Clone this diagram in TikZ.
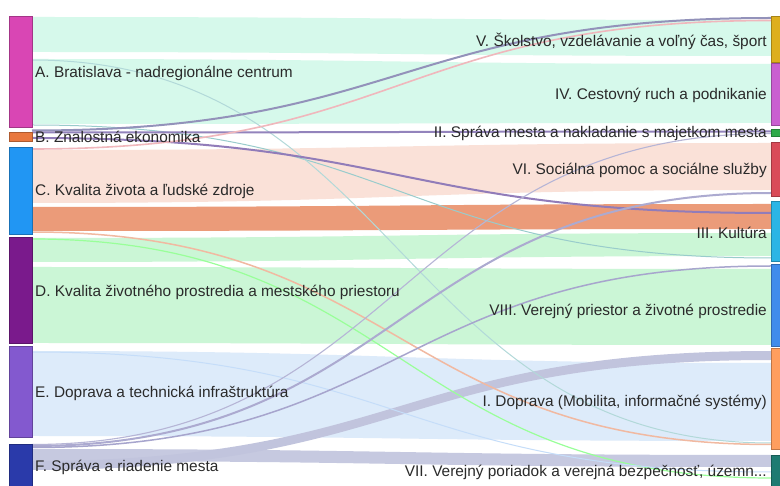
\documentclass[tikz,border=0pt]{standalone}
\usepackage{fontspec}
\setmainfont{Liberation Sans}
\definecolor{cA}{HTML}{D946B4}
\definecolor{cB}{HTML}{E8783F}
\definecolor{cC}{HTML}{2196F3}
\definecolor{cD}{HTML}{7A1A8C}
\definecolor{cE}{HTML}{8359CF}
\definecolor{cF}{HTML}{2A3AAA}
\definecolor{cV}{HTML}{DDAF1E}
\definecolor{cIV}{HTML}{C95FD0}
\definecolor{cII}{HTML}{2EAA4A}
\definecolor{cVI}{HTML}{D94B58}
\definecolor{cIII}{HTML}{2BB5E5}
\definecolor{cVIII}{HTML}{3F8CEB}
\definecolor{cI}{HTML}{FF9E5E}
\definecolor{cVII}{HTML}{1E7B72}
\definecolor{mint}{HTML}{D6F9EB}
\definecolor{peach}{HTML}{FAE1D8}
\definecolor{coral}{HTML}{EB9B79}
\definecolor{lgreen}{HTML}{CBF6D6}
\definecolor{lblue}{HTML}{DDEBFA}
\definecolor{lav}{HTML}{C6C9E0}
\definecolor{lavline}{HTML}{9795C4}
\definecolor{txt}{HTML}{2A2A2A}
\newcommand\sflow[5]{\fill[#5] (32,#1) .. controls (400,#1) and (400,#3) .. (771,#3) -- (771,#4) .. controls (400,#4) and (400,#2) .. (32,#2) -- cycle;}
\newcommand\sline[4]{\draw[line width=#3,#4] (32,#1) .. controls (400,#1) and (400,#2) .. (771,#2);}
\begin{document}
\begin{tikzpicture}[x=1pt,y=-1pt,
  bar/.style={draw=#1!75!black,fill=#1,line width=0.6pt,inner sep=0pt,outer sep=0pt},
  llab/.style={anchor=west,text=txt,font=\fontsize{15.4}{18}\selectfont,inner sep=0pt},
  rlab/.style={anchor=east,text=txt,font=\fontsize{15.4}{18}\selectfont,inner sep=0pt}]
\useasboundingbox (0,0) rectangle (780,486);
\clip (0,0) rectangle (780,486);
\fill[white] (0,0) rectangle (780,486);
% bands
\sflow{17}{52}{20}{56}{mint}
\sflow{59}{124}{64}{123}{mint}
\sflow{150}{203}{143}{190}{peach}
\sflow{207}{231}{204}{229}{coral}
\sflow{238}{262}{233}{256}{lgreen}
\sflow{267}{343}{269}{345}{lgreen}
\sflow{351}{436}{363}{441}{lblue}
\sflow{449}{461}{455}{467}{lav}
\sflow{461}{470}{351}{360}{lav!90!lavline}
% thin lines
\sline{125}{258}{1pt}{teal!40}
\sline{60}{443}{1pt}{teal!30}
\sline{130.5}{18}{2pt}{lavline!85!gray}
\sline{132.5}{131.5}{2pt}{lavline!85!cD}
\sline{138}{213}{2pt}{lavline!80!cD}
\sline{149}{20.5}{1.6pt}{cVI!40}
\sline{232}{444.5}{1.5pt}{coral!70}
\sline{239}{478}{1.2pt}{green!40}
\sline{352}{472}{1pt}{cVIII!30}
\sline{444.5}{133.5}{1.1pt}{lavline!70}
\sline{446}{193}{2pt}{lavline!80}
\sline{447.5}{266}{1.5pt}{lavline!85}
% bars
\node[bar=cA,minimum width=23pt,minimum height=111pt] (A) at (20.5,71.5) {};
\node[bar=cB,minimum width=23pt,minimum height=9pt] (B) at (20.5,136.5) {};
\node[bar=cC,minimum width=23pt,minimum height=87pt] (C) at (20.5,191) {};
\node[bar=cD,minimum width=23pt,minimum height=106pt] (D) at (20.5,290) {};
\node[bar=cE,minimum width=23pt,minimum height=91pt] (E) at (20.5,392) {};
\node[bar=cF,minimum width=23pt,minimum height=46pt] (F) at (20.5,467) {};
\node[bar=cV,minimum width=11pt,minimum height=46pt] (V) at (776.5,39) {};
\node[bar=cIV,minimum width=11pt,minimum height=62pt] (IV) at (776.5,94) {};
\node[bar=cII,minimum width=11pt,minimum height=7pt] (II) at (776.5,132.5) {};
\node[bar=cVI,minimum width=11pt,minimum height=54pt] (VI) at (776.5,169) {};
\node[bar=cIII,minimum width=11pt,minimum height=60pt] (III) at (776.5,231) {};
\node[bar=cVIII,minimum width=11pt,minimum height=82pt] (VIII) at (776.5,305) {};
\node[bar=cI,minimum width=11pt,minimum height=101pt] (I) at (776.5,399) {};
\node[bar=cVII,minimum width=11pt,minimum height=36pt] (VII) at (776.5,473) {};
% labels
\node[llab] (lA) at (35,73) {A. Bratislava - nadregionálne centrum};
\node[llab] (lB) at (35,137) {B. Znalostná ekonomika};
\node[llab] (lC) at (35,191) {C. Kvalita života a ľudské zdroje};
\node[llab] (lD) at (35,292) {D. Kvalita životného prostredia a mestského priestoru};
\node[llab] (lE) at (35,393) {E. Doprava a technická infraštruktúra};
\node[llab] (lF) at (35,467) {F. Správa a riadenie mesta};
\node[rlab] (lV) at (767,41) {V. Školstvo, vzdelávanie a voľný čas, šport};
\node[rlab] (lIV) at (767,95) {IV. Cestovný ruch a podnikanie};
\node[rlab] (lII) at (767,133) {II. Správa mesta a nakladanie s majetkom mesta};
\node[rlab] (lVI) at (767,170) {VI. Sociálna pomoc a sociálne služby};
\node[rlab] (lIII) at (767,233) {III. Kultúra};
\node[rlab] (lVIII) at (767,311) {VIII. Verejný priestor a životné prostredie};
\node[rlab] (lI) at (767,402) {I. Doprava (Mobilita, informačné systémy)};
\node[rlab] (lVII) at (767,472) {VII. Verejný poriadok a verejná bezpečnosť, územn...};
\end{tikzpicture}
\end{document}
